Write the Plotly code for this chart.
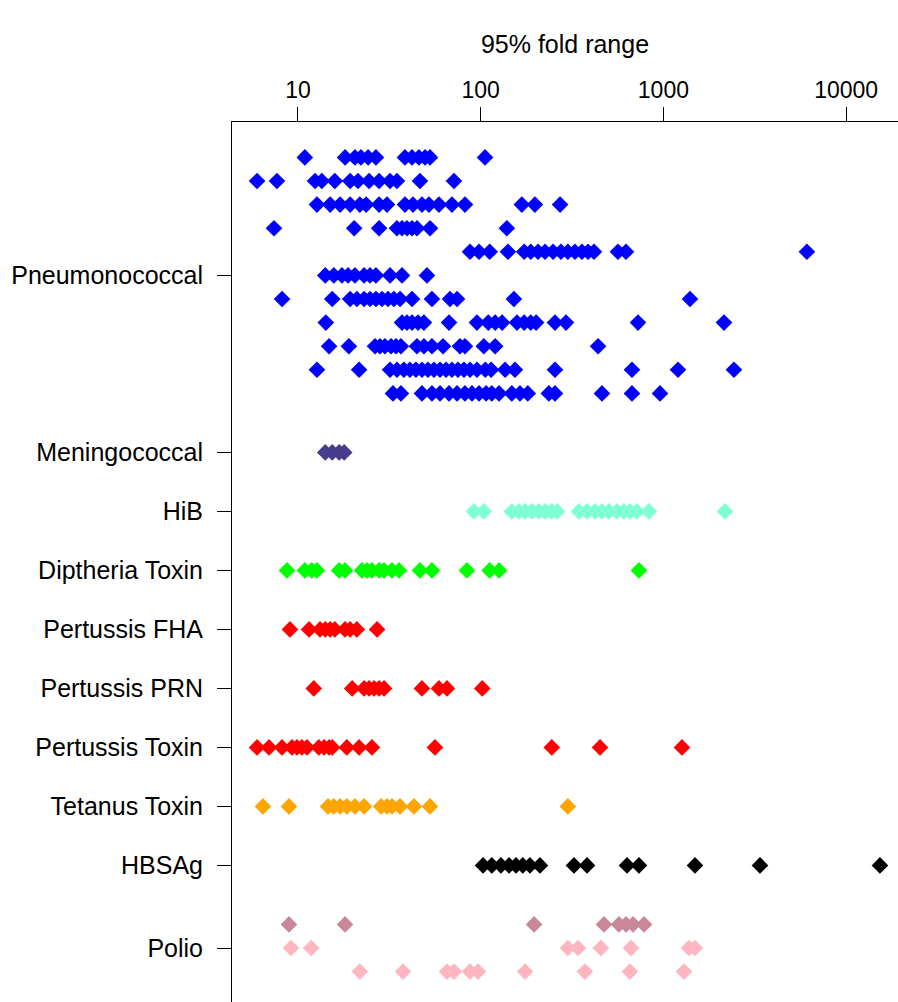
import plotly.graph_objects as go

# ---------------- data (95% fold range values) ----------------
categories = ["Pneumonococcal", "Meningococcal", "HiB", "Diptheria Toxin",
              "Pertussis FHA", "Pertussis PRN", "Pertussis Toxin",
              "Tetanus Toxin", "HBSAg", "Polio"]

pneumococcal = [
    [10.9, 18.1, 20.5, 22.1, 24.2, 26.7, 38.5, 42.1, 45.9, 49.6, 52.8, 105.6],
    [5.97, 7.67, 12.4, 13.5, 15.9, 19.3, 21.3, 24.5, 27.8, 31.9, 34.8, 46.5, 71.4],
    [12.7, 15.0, 17.0, 19.3, 21.8, 23.6, 27.8, 30.7, 38.5, 42.6, 47.7, 52.1, 59.1,
     69.6, 82.0, 168, 198, 272],
    [7.39, 20.3, 27.8, 34.8, 37.1, 39.5, 42.1, 44.8, 52.8, 139],
    [87.4, 97.9, 112, 141, 173, 188, 206, 225, 249, 275, 300, 328, 358, 387, 417,
     564, 624, 6100],
    [14.1, 15.7, 17.4, 18.8, 20.5, 23.0, 24.8, 26.7, 31.9, 37.1, 50.8],
    [8.18, 15.4, 19.3, 21.0, 23.0, 24.8, 26.7, 28.8, 31.1, 33.5, 36.2, 42.1, 54.1,
     67.9, 74.2, 152, 1398],
    [14.2, 37.1, 39.5, 42.1, 45.4, 48.9, 67.1, 95.4, 110, 120, 131, 158, 173, 188,
     201, 255, 293, 726, 2146],
    [14.8, 19.0, 26.4, 28.1, 29.9, 32.3, 34.4, 36.6, 44.8, 48.9, 54.1, 62.2, 77.0,
     82.0, 104, 120, 439],
    [12.7, 21.6, 31.9, 34.8, 38.0, 41.0, 44.2, 47.7, 51.4, 55.5, 59.9, 64.6, 69.6,
     75.1, 81.0, 87.4, 95.4, 106, 114, 136, 154, 255, 673, 1202, 2433],
    [33.1, 36.6, 47.7, 54.1, 59.9, 67.1, 74.2, 82.0, 89.6, 97.9, 107, 115, 126, 148,
     164, 181, 236, 255, 461, 673, 958],
]
meningococcal = [[14.1, 15.4, 16.8, 17.9]]
hib = [[91.9, 104, 148, 162, 175, 191, 208, 225, 245, 262, 345, 382, 422, 461, 504,
        557, 608, 656, 717, 834, 2173]]
diptheria_toxin = [[8.71, 10.9, 11.9, 12.7, 16.8, 18.1, 22.4, 23.9, 25.4, 27.8, 29.6,
                    32.7, 35.7, 46.5, 54.1, 84.1, 112, 126, 735]]
pertussis_fha = [[9.04, 11.5, 13.2, 14.1, 15.0, 15.9, 18.1, 19.3, 21.0, 27.1]]
pertussis_prn = [[12.2, 19.8, 23.0, 24.5, 26.1, 27.8, 29.6, 47.7, 59.1, 65.4, 102]]
pertussis_toxin = [[5.97, 6.94, 8.18, 9.27, 9.87, 10.5, 11.2, 13.0, 13.9, 14.8, 15.4,
                    18.5, 21.6, 25.4, 56.2, 245, 450, 1264]]
tetanus_toxin = [[6.43, 8.93, 14.6, 15.7, 17.0, 18.5, 20.5, 23.0, 28.5, 30.7, 32.7,
                  36.2, 43.1, 52.8, 300]]
hbsag = [[103, 115, 129, 143, 156, 170, 186, 211, 324, 382, 632, 735, 1489, 3377, 15320]]
polio = [
    [8.93, 18.1, 196, 473, 571, 624, 682, 783],
    [9.16, 11.8, 300, 341, 455, 665, 1380, 1489],
    [21.8, 37.6, 65.4, 71.4, 87.4, 96.6, 175, 372, 656, 1296],
]

groups = [pneumococcal, meningococcal, hib, diptheria_toxin, pertussis_fha,
          pertussis_prn, pertussis_toxin, tetanus_toxin, hbsag, polio]
group_colors = [
    ["#0000FF"], ["#483D8B"], ["#7FFFD4"], ["#00FF00"], ["#FF0000"], ["#FF0000"],
    ["#FF0000"], ["#FFA500"], ["#000000"], ["#C8889A", "#FFB6C1", "#FFB6C1"],
]

# ---------------- layout of rows ----------------
ROW_STEP = 0.4
centers = [0.0] * len(groups)
prev_rows = None
c = 0.0
for gi in range(len(groups) - 1, -1, -1):
    n = len(groups[gi])
    if prev_rows is not None:
        c += 0.5 + (prev_rows - 1) * ROW_STEP / 2 + 0.5 + (n - 1) * ROW_STEP / 2
    centers[gi] = c
    prev_rows = n

fig = go.Figure()
for gi, rows in enumerate(groups):
    n = len(rows)
    top = centers[gi] + (n - 1) * ROW_STEP / 2
    cols = group_colors[gi]
    for ri, vals in enumerate(rows):
        yv = top - ri * ROW_STEP
        fig.add_trace(go.Scatter(
            x=vals, y=[yv] * len(vals), mode="markers",
            marker=dict(symbol="diamond", size=12.8, color=cols[ri % len(cols)],
                        line=dict(width=0)),
            showlegend=False, hoverinfo="x",
        ))

font_family = "Liberation Sans, Arial, sans-serif"
fig.update_layout(
    width=898, height=1002,
    margin=dict(l=232, r=0, t=122, b=0),
    plot_bgcolor="white", paper_bgcolor="white",
    font=dict(family=font_family, size=25, color="black"),
    xaxis=dict(
        type="log", range=[0.6388, 4.284], side="top",
        tickvals=[10, 100, 1000, 10000], ticktext=["10", "100", "1000", "10000"],
        ticks="outside", ticklen=14, tickcolor="black", tickwidth=1,
        showline=True, linecolor="black", linewidth=1, mirror=False,
        showgrid=False, zeroline=False,
        title=dict(text="95% fold range", standoff=16, font=dict(size=25)),
        tickfont=dict(size=23),
    ),
    yaxis=dict(
        range=[-0.915, 14.0],
        tickvals=centers, ticktext=categories,
        ticks="outside", ticklen=14, tickcolor="black", tickwidth=1,
        showline=True, linecolor="black", linewidth=1, mirror=False,
        showgrid=False, zeroline=False,
        tickfont=dict(size=25), ticklabelstandoff=9,
    ),
)

fig.write_html("out.html")
